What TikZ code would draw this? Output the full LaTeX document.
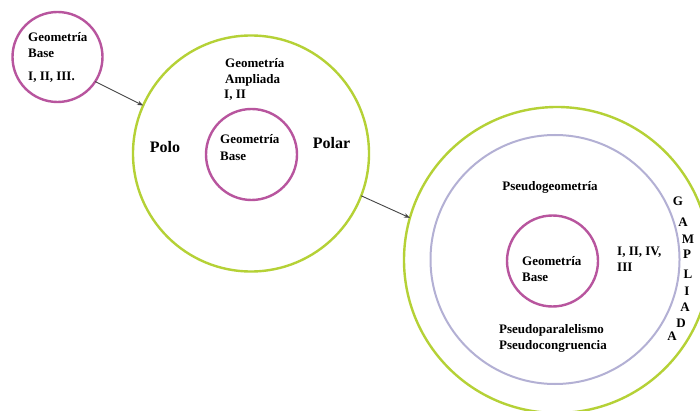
\documentclass[tikz,border=0pt]{standalone}
\usepackage{fontspec}
\setmainfont{Liberation Serif}
\usetikzlibrary{arrows.meta}
\definecolor{lime}{HTML}{B5D136}
\definecolor{magen}{HTML}{B8559E}
\definecolor{lav}{HTML}{B3B0D4}
\definecolor{arr}{HTML}{454545}
\tikzset{
  ring/.style={circle, draw, inner sep=0pt, outer sep=0pt},
  greenring/.style={ring, draw=lime, line width=2.4pt},
  magring/.style={ring, draw=magen, line width=2.4pt},
  lavring/.style={ring, draw=lav, line width=2pt},
  lbl/.style={inner sep=0pt, anchor=base west, font=\fontsize{13}{15}\selectfont\bfseries},
  clbl/.style={inner sep=0pt, anchor=base, font=\fontsize{13}{15}\selectfont\bfseries},
  big/.style={inner sep=0pt, anchor=base, font=\fontsize{16}{18}\selectfont\bfseries},
  conn/.style={draw=arr, line width=0.9pt, -{Stealth[length=6pt,width=4.5pt]}}
}
\begin{document}
\begin{tikzpicture}[x=1pt,y=-1pt]
\useasboundingbox[fill=white] (0,0) rectangle (700,411);
% circles
\node[magring, minimum size=90pt] (s) at (57.5,57) {};
\node[greenring, minimum size=236pt] (b1) at (251,153.5) {};
\node[magring, minimum size=91pt] (i1) at (251.5,154.5) {};
\node[greenring, minimum size=306pt] (b2) at (557,260) {};
\node[lavring, minimum size=249pt] (l2) at (555,259.5) {};
\node[magring, minimum size=91pt] (i2) at (552.5,261) {};
% small circle text
\node[lbl] (s1) at (28,41.5) {Geometría};
\node[lbl] (s2) at (28,57.5) {Base};
\node[lbl] (s3) at (28,80.5) {I, II, III.};
% big circle 1 text
\node[lbl] (a1) at (225,67.5) {Geometría};
\node[lbl] (a2) at (225,83.5) {Ampliada};
\node[lbl] (a3) at (224,98.5) {I, II};
\node[big] (polo) at (165,152.3) {Polo};
\node[big] (polar) at (331.5,148.3) {Polar};
\node[lbl] (g1) at (220,143.5) {Geometría};
\node[lbl] (g2) at (220,160.5) {Base};
% big circle 2 text
\node[clbl] (pg) at (550,190.5) {Pseudogeometría};
\node[lbl] (r1) at (617,255.5) {I, II, IV,};
\node[lbl] (r2) at (617,271.5) {III};
\node[lbl] (h1) at (522,265.5) {Geometría};
\node[lbl] (h2) at (522,281.5) {Base};
\node[lbl] (p1) at (499,333.5) {Pseudoparalelismo};
\node[lbl] (p2) at (499,349.5) {Pseudocongruencia};
% vertical letters
\node[clbl] (v1) at (678,205.5) {G};
\node[clbl] (v2) at (683,226.5) {A};
\node[clbl] (v3) at (688,243.5) {M};
\node[clbl] (v4) at (687,258.5) {P};
\node[clbl] (v5) at (688,278.5) {L};
\node[clbl] (v6) at (687,295.5) {I};
\node[clbl] (v7) at (685,311.5) {A};
\node[clbl] (v8) at (681,327.5) {D};
\node[clbl] (v9) at (672,340.5) {A};
% connectors
\draw[conn] (s.-33) -- (b1.156);
\draw[conn] (b1.-21) -- (b2.164);
\end{tikzpicture}
\end{document}
